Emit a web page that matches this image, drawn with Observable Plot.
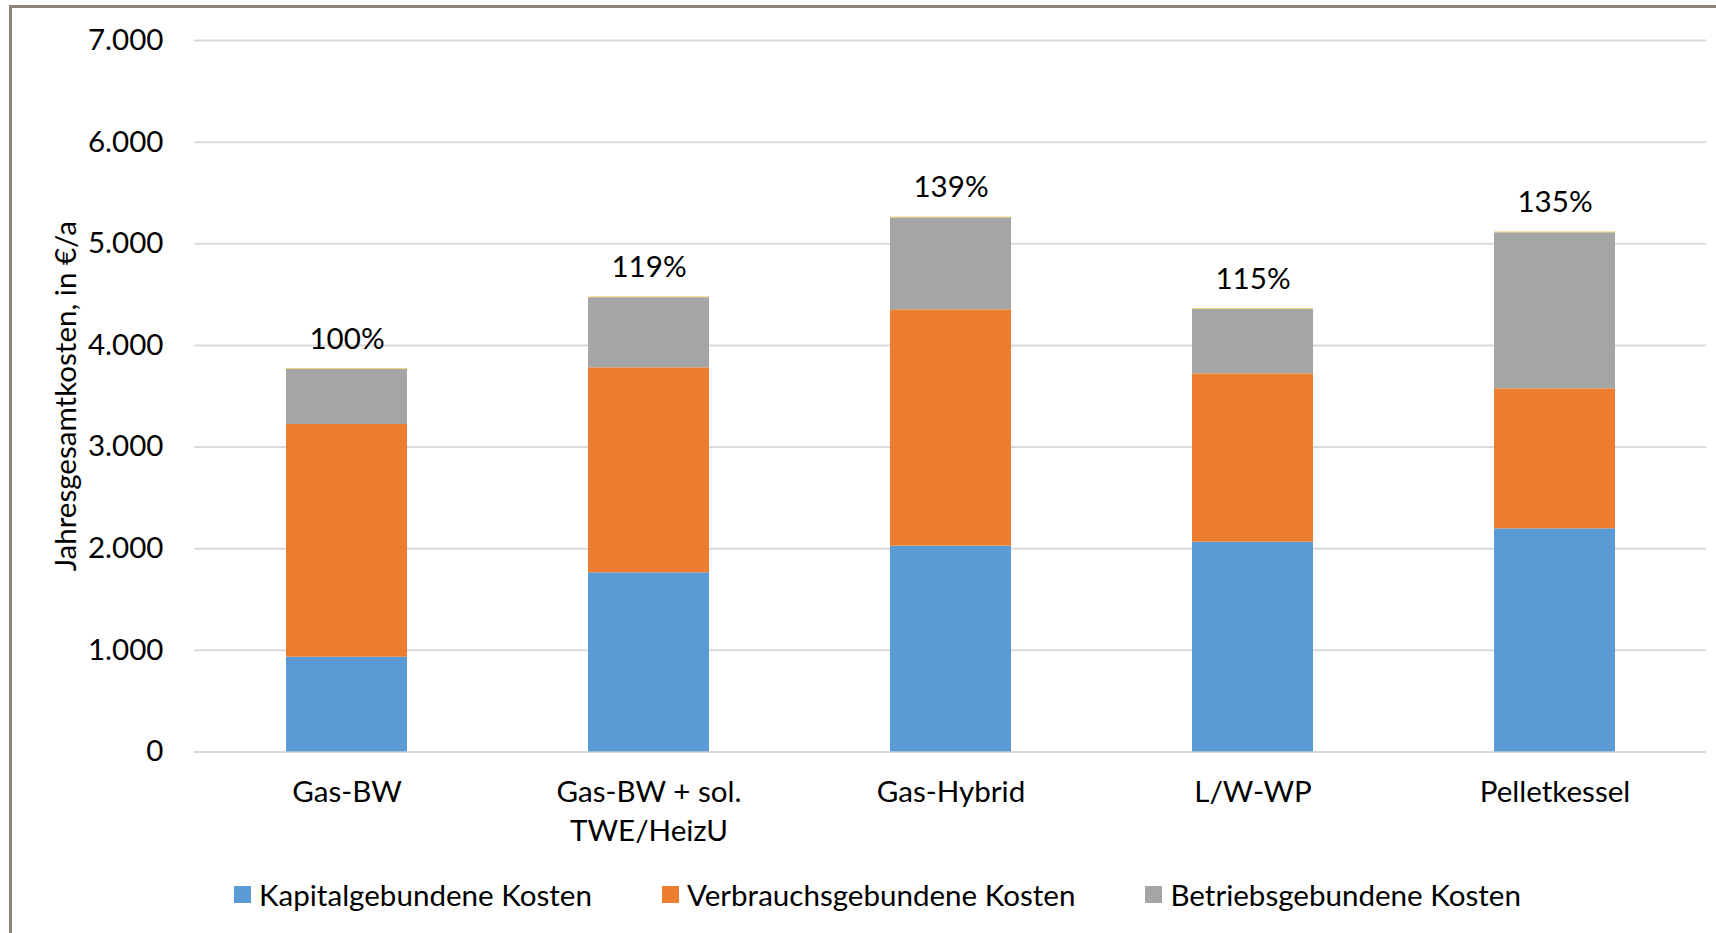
<!DOCTYPE html>
<html>
<head>
<meta charset="utf-8">
<script src="https://cdn.jsdelivr.net/npm/d3@7"></script>
<script src="https://cdn.jsdelivr.net/npm/@observablehq/plot@0.6"></script>
<style>
  html, body { margin: 0; padding: 0; background: #fff; }
  #wrap { position: relative; width: 1716px; height: 933px; overflow: hidden; background: #fff; font-family: Lato, "Open Sans", sans-serif; color: #000; }
  #frame { position: absolute; left: 9px; top: 5px; width: 2000px; height: 2000px; border-left: 3px solid #8d837a; border-top: 3px solid #8d837a; }
  #chart { position: absolute; left: 0; top: 0; }
  #legend { position: absolute; left: 234px; top: 878px; height: 32px; display: flex; align-items: center; white-space: nowrap; }
  .item { display: flex; align-items: center; margin-right: 70px; }
  .sw { width: 17px; height: 17px; margin-right: 8px; }
</style>
</head>
<body>
<div id="wrap">
  <div id="frame"></div>
  <div id="chart"></div>
  <div id="legend"></div>
</div>
<script>
// ---- data ----
const categories = ["Gas-BW", "Gas-BW + sol.\nTWE/HeizU", "Gas-Hybrid", "L/W-WP", "Pelletkessel"];
const kapital   = [932, 1762, 2024, 2063, 2195];
const verbrauch = [2290, 2017, 2326, 1657, 1378];
const betrieb   = [541, 690, 905, 633, 1535];
const sonstige  = [8, 8, 8, 8, 8];
const pctLabels = ["100%", "119%", "139%", "115%", "135%"];
const seriesNames = ["Kapitalgebundene Kosten", "Verbrauchsgebundene Kosten", "Betriebsgebundene Kosten", "Sonstige"];
const legendNames = ["Kapitalgebundene Kosten", "Verbrauchsgebundene Kosten", "Betriebsgebundene Kosten"];
const seriesColors = ["#5b9bd5", "#ed7d31", "#a5a5a5", "#f2cd66"];
const yTicks = [0, 1000, 2000, 3000, 4000, 5000, 6000, 7000];
const yTickLabels = ["0", "1.000", "2.000", "3.000", "4.000", "5.000", "6.000", "7.000"];
const yLabel = "Jahresgesamtkosten, in €/a";

// ---- build ----
const seriesValues = [kapital, verbrauch, betrieb, sonstige];
const rows = [];
categories.forEach((c, i) => seriesNames.forEach((s, j) => rows.push({cat: c, series: s, value: seriesValues[j][i]})));
const totals = categories.map((c, i) => seriesValues.reduce((a, v) => a + v[i], 0));

const family = "Lato";
const ctx = document.createElement("canvas").getContext("2d");
ctx.font = `100px ${family}`;
const fs = 100 * 333 / ctx.measureText("Kapitalgebundene Kosten").width;

const W = 1716, H = 860;
const plot = Plot.plot({
  width: W, height: H,
  marginLeft: 194, marginRight: 10, marginTop: 40, marginBottom: H - 751.4,
  style: {fontFamily: family, fontSize: fs + "px", color: "#000", background: "transparent"},
  x: {domain: categories, paddingInner: 0.6, paddingOuter: 0.3, align: 0.5},
  y: {domain: [0, 7000]},
  color: {domain: seriesNames, range: seriesColors},
  marks: [
    Plot.gridY(yTicks, {stroke: "#d9d9d9", strokeOpacity: 1, strokeWidth: 2}),
    Plot.barY(rows, {x: "cat", y: "value", fill: "series", order: seriesNames}),
    Plot.axisY(yTicks, {tickSize: 0, tickPadding: 31, tickFormat: d => yTickLabels[yTicks.indexOf(d)], fontSize: fs, label: null, fill: "#000"}),
    Plot.axisX({tickSize: 0, tickPadding: 22, fontSize: fs, lineHeight: 39.4 / fs, label: null, fill: "#000"}),
    Plot.text(categories, {x: d => d, y: (d, i) => totals[i], text: (d, i) => pctLabels[i], dy: -20, lineAnchor: "bottom", fontSize: fs, fill: "#000"}),
    Plot.text([yLabel], {frameAnchor: "left", rotate: -90, dx: -128, textAnchor: "middle", lineAnchor: "middle", fontSize: fs, fill: "#000"})
  ]
});
document.getElementById("chart").appendChild(plot);

const leg = document.getElementById("legend");
legendNames.forEach((n, i) => {
  const it = document.createElement("div");
  it.className = "item";
  it.innerHTML = `<div class="sw" style="background:${seriesColors[i]}"></div><span style="font-size:${fs}px">${n}</span>`;
  leg.appendChild(it);
});
</script>
</body>
</html>
